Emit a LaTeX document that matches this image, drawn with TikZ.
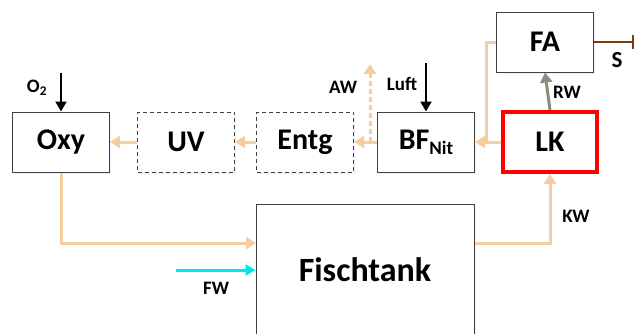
\documentclass[tikz,border=0pt]{standalone}
\usepackage{fontspec}
\setmainfont{Carlito}
\usetikzlibrary{arrows.meta,positioning,shadows}
\definecolor{pipe}{RGB}{246,205,160}
\definecolor{rwgray}{RGB}{140,140,122}
\definecolor{sbrown}{RGB}{128,58,18}
\definecolor{fwcyan}{RGB}{0,232,232}

\begin{document}
\begin{tikzpicture}[x=1pt,y=-1pt,>=Latex,
  block/.style={draw=black!75,fill=white,line width=1pt,
  minimum width=97pt,minimum height=60pt,inner sep=0pt,
  font=\fontsize{30}{32}\selectfont\bfseries,
  drop shadow={shadow xshift=1.5pt,shadow yshift=-2pt,fill=blue!25,opacity=.25}},
  dashblock/.style={block,dashed,dash pattern=on 4pt off 3pt},
  lbl/.style={font=\fontsize{19}{21}\selectfont\bfseries},
  water/.style={draw=pipe,line width=3pt,-{Triangle[length=10pt,width=12pt]}},
  feed/.style={line width=2pt,-{Triangle[length=10pt,width=11pt]}}]
  \useasboundingbox (0,0) rectangle (635,333);

  \node[block] (oxy) at (61,142) {Oxy};
  \node[dashblock] (uv) at (186,142) {UV};
  \node[dashblock] (entg) at (305,142) {Entg};
  \node[block] (bf) at (426,142) {BF\raisebox{-5pt}{\fontsize{19}{20}\selectfont Nit}};
  \node[block,draw=red,line width=4pt,minimum width=94pt,minimum height=60pt] (lk) at (550,142) {LK};
  \node[block] (fa) at (545,42) {FA};
  \node[block,minimum width=218pt,minimum height=132pt,
    font=\fontsize{34}{36}\selectfont\bfseries] (tank) at (365,270) {Fischtank};

  % free ends and bends
  \coordinate (o2) at (61,73);
  \coordinate (luft) at (426,63);
  \coordinate (aw0) at (370,142);
  \coordinate (aw1) at (370,64);
  \coordinate (jn) at (486,142);
  \coordinate (s) at (634,42);
  \coordinate (fw) at (176,270);
  \coordinate (tin) at (256,243);

  \draw[water] (bf.west) -- (entg.east);
  \draw[water] (entg.west) -- (uv.east);
  \draw[water] (uv.west) -- (oxy.east);
  \draw[water] (lk.west) -- (bf.east);
  \draw[water] (oxy.south) |- (tin);
  \draw[water] (tank.east |- tin) -| (lk.south);
  \draw[draw=pipe,line width=3pt] (fa.west) -| (jn);
  \draw[water,dash pattern=on 5pt off 3pt] (aw0) -- (aw1);

  \draw[feed] (o2) -- (oxy.north);
  \draw[feed] (luft) -- (bf.north);
  \draw[water,draw=rwgray] (lk.north) -- (fa.south);
  \draw[draw=sbrown,line width=2.2pt,-{Bar[width=14pt]}] (fa.east) -- (s);
  \draw[feed,draw=fwcyan,line width=3pt] (fw) -- (tank.west);

  \node[lbl] at (37,88) {O\textsubscript{2}};
  \node[lbl] at (402,84) {Luft};
  \node[lbl] at (343,87) {AW};
  \node[lbl] at (567,92) {RW};
  \node[lbl,font=\fontsize{23}{25}\selectfont\bfseries] at (617,60) {S};
  \node[lbl] at (576,216) {KW};
  \node[lbl] at (216,288) {FW};
\end{tikzpicture}
\end{document}
